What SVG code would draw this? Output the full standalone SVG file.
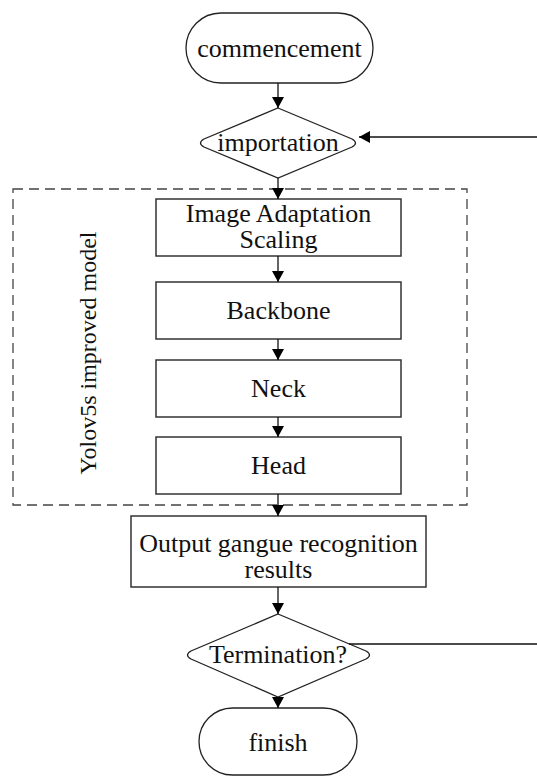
<svg xmlns="http://www.w3.org/2000/svg" width="537" height="778" viewBox="0 0 537 778">
<style>
.shape{fill:#fff;stroke:#222;stroke-width:1.3}
.box{fill:#fff;stroke:#333;stroke-width:1.5}
.t{font-family:'Liberation Serif','Times New Roman',Times,'DejaVu Serif',serif;font-size:26px;fill:#111;text-anchor:middle}
.c{stroke:#111;stroke-width:1.3;fill:none}
.dash{fill:none;stroke:#444;stroke-width:1.3;stroke-dasharray:10 6}
</style>
<defs>
<marker id="ah" markerUnits="userSpaceOnUse" markerWidth="12" markerHeight="12" refX="11" refY="6" orient="auto">
<path d="M0,0 L11,6 L0,12 z" fill="#000"/>
</marker>
</defs>
<g id="group-yolo">
<rect class="dash" x="13" y="189" width="454" height="316"/>
<text class="t" font-family="Liberation Serif, serif" transform="translate(96,353) rotate(-90)" style="font-size:24px">Yolov5s improved model</text>
</g>
<g id="commencement">
<rect class="shape" x="186" y="13" width="187" height="70" rx="35" ry="35"/>
<text class="t" font-family="Liberation Serif, serif" x="279.5" y="56.5">commencement</text>
</g>
<g id="importation">
<path class="shape" d="M278,108 L352,139 Q359,143 352,147 L278,178 L204,147 Q197,143 204,139 Z"/>
<text class="t" font-family="Liberation Serif, serif" x="278" y="151">importation</text>
</g>
<g id="image-adaptation">
<rect class="box" x="156" y="199" width="245" height="57"/>
<text class="t" font-family="Liberation Serif, serif" x="278.5" y="222">Image Adaptation</text>
<text class="t" font-family="Liberation Serif, serif" x="278.5" y="248">Scaling</text>
</g>
<g id="backbone">
<rect class="box" x="156" y="282" width="245" height="57"/>
<text class="t" font-family="Liberation Serif, serif" x="278.5" y="318.5">Backbone</text>
</g>
<g id="neck">
<rect class="box" x="156" y="360" width="245" height="57"/>
<text class="t" font-family="Liberation Serif, serif" x="278.5" y="396.5">Neck</text>
</g>
<g id="head">
<rect class="box" x="156" y="437" width="245" height="57"/>
<text class="t" font-family="Liberation Serif, serif" x="278.5" y="473.5">Head</text>
</g>
<g id="output">
<rect class="box" x="131" y="516" width="295" height="71"/>
<text class="t" font-family="Liberation Serif, serif" x="278.5" y="552">Output gangue recognition</text>
<text class="t" font-family="Liberation Serif, serif" x="278.5" y="578">results</text>
</g>
<g id="termination">
<path class="shape" d="M278,614 L366,651 Q373,655 366,659 L278,697 L191,659 Q184,655 191,651 Z"/>
<text class="t" font-family="Liberation Serif, serif" x="278" y="663">Termination?</text>
</g>
<g id="finish">
<rect class="shape" x="199" y="708" width="158" height="67" rx="33.5" ry="33.5"/>
<text class="t" font-family="Liberation Serif, serif" x="278" y="751">finish</text>
</g>
<g id="connectors">
<line class="c" x1="278" y1="83" x2="278" y2="108" marker-end="url(#ah)"/>
<line class="c" x1="278" y1="178" x2="278" y2="199" marker-end="url(#ah)"/>
<line class="c" x1="278" y1="256" x2="278" y2="282" marker-end="url(#ah)"/>
<line class="c" x1="278" y1="339" x2="278" y2="360" marker-end="url(#ah)"/>
<line class="c" x1="278" y1="417" x2="278" y2="437" marker-end="url(#ah)"/>
<line class="c" x1="278" y1="494" x2="278" y2="516" marker-end="url(#ah)"/>
<line class="c" x1="278" y1="587" x2="278" y2="614" marker-end="url(#ah)"/>
<line class="c" x1="278" y1="697" x2="278" y2="708" marker-end="url(#ah)"/>
<line class="c" x1="537" y1="137" x2="359" y2="137" marker-end="url(#ah)"/>
<line class="c" x1="349" y1="644" x2="537" y2="644"/>
</g>
</svg>
